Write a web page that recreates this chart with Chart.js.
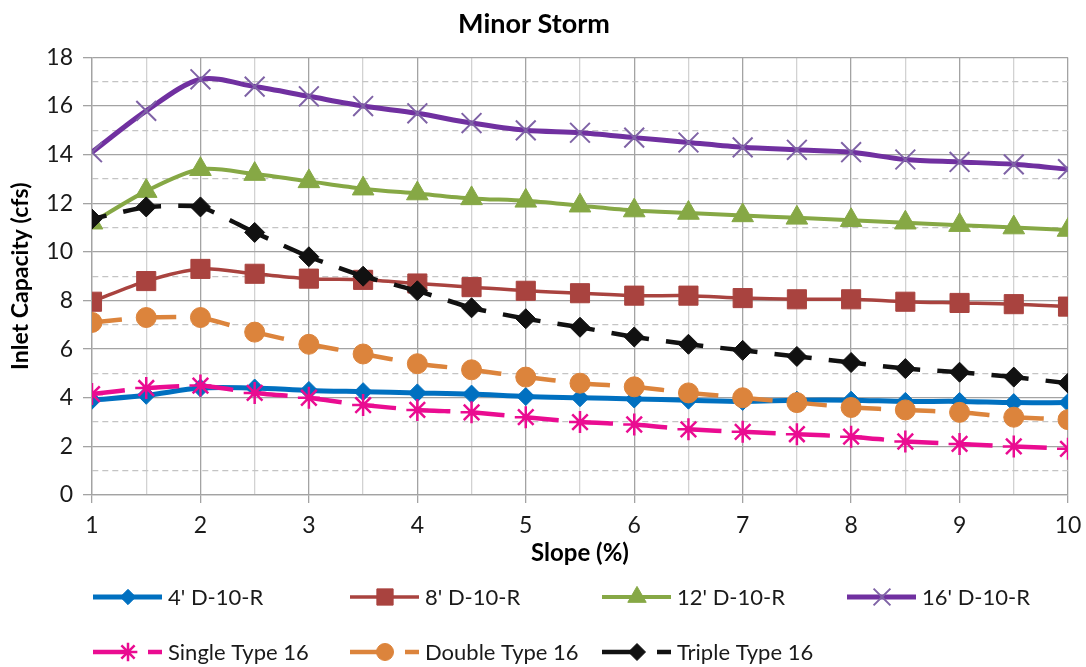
<!DOCTYPE html>
<html>
<head>
<meta charset="utf-8">
<title>Minor Storm</title>
<script src="https://cdn.jsdelivr.net/npm/chart.js@4.4.1/dist/chart.umd.min.js"></script>
<style>
    html, body { margin: 0; padding: 0; background: #ffffff; }
    #wrap { width: 1086px; height: 667px; }
</style>
</head>
<body>
<div id="wrap"><canvas id="capacityChart" width="1086" height="667"></canvas></div>
<script>

// ======================================
// Data
// ======================================

const slopes = [1, 1.5, 2, 2.5, 3, 3.5, 4, 4.5, 5, 5.5, 6, 6.5, 7, 7.5, 8, 8.5, 9, 9.5, 10];

const seriesNames = [
    "4' D-10-R", "8' D-10-R", "12' D-10-R", "16' D-10-R",
    "Single Type 16", "Double Type 16", "Triple Type 16"
];

const inlet4ft = [3.9, 4.1, 4.4, 4.4, 4.3, 4.25, 4.2, 4.15, 4.05, 4.0, 3.95, 3.9, 3.85, 3.9, 3.9, 3.85, 3.85, 3.8, 3.8];
const inlet8ft = [7.95, 8.8, 9.3, 9.1, 8.9, 8.85, 8.7, 8.55, 8.4, 8.3, 8.2, 8.2, 8.1, 8.05, 8.05, 7.95, 7.9, 7.85, 7.75];
const inlet12ft = [11.2, 12.5, 13.4, 13.2, 12.9, 12.6, 12.4, 12.2, 12.1, 11.9, 11.7, 11.6, 11.5, 11.4, 11.3, 11.2, 11.1, 11.0, 10.9];
const inlet16ft = [14.1, 15.8, 17.1, 16.8, 16.4, 16.0, 15.7, 15.3, 15.0, 14.9, 14.7, 14.5, 14.3, 14.2, 14.1, 13.8, 13.7, 13.6, 13.4];
const singleType16 = [4.15, 4.4, 4.5, 4.2, 4.0, 3.7, 3.5, 3.4, 3.2, 3.0, 2.9, 2.7, 2.6, 2.5, 2.4, 2.2, 2.1, 2.0, 1.9];
const doubleType16 = [7.1, 7.3, 7.3, 6.7, 6.2, 5.8, 5.4, 5.15, 4.85, 4.6, 4.45, 4.2, 4.0, 3.8, 3.6, 3.5, 3.4, 3.2, 3.1];
const tripleType16 = [11.35, 11.85, 11.85, 10.8, 9.8, 9.0, 8.4, 7.7, 7.25, 6.9, 6.5, 6.2, 5.95, 5.7, 5.45, 5.2, 5.05, 4.85, 4.6];

const yTicks = [0, 2, 4, 6, 8, 10, 12, 14, 16, 18];

// ======================================
// Styles
// ======================================

const FONT = "Lato, 'Open Sans', sans-serif";
const MAJOR_GRID = "#a3a3a3";
const MINOR_GRID = "#c4c4c4";
const HALF_GRID = "#d2d2d2";

const legendCols = [93, 350, 602, 847];
const legendRows = [597, 652];

function toPoints(values) {
    return slopes.map((s, i) => ({ x: s, y: values[i] }));
}

// every segment gets its own path so the dash restarts at each point
function restartDash(offset) {
    return {
        borderDashOffset: ctx => offset + (ctx.p0DataIndex % 2) * 0.01
    };
}

function solidSeries(label, values, color, style, radius, width, pointColor) {
    return {
        label: label,
        data: toPoints(values),
        borderColor: color,
        backgroundColor: pointColor || color,
        borderWidth: width,
        pointStyle: style,
        pointRadius: radius,
        pointBackgroundColor: pointColor || color,
        pointBorderColor: pointColor || color,
        pointBorderWidth: 1,
        tension: 0.3
    };
}

function dashedSeries(label, values, color, style, radius, dash, offset) {
    return {
        label: label,
        data: toPoints(values),
        borderColor: color,
        backgroundColor: color,
        borderWidth: 4.5,
        borderDash: dash,
        segment: restartDash(offset),
        pointStyle: style,
        pointRadius: radius,
        pointBackgroundColor: color,
        pointBorderColor: color,
        pointBorderWidth: 1,
        tension: 0.15
    };
}

const datasets = [
    solidSeries(seriesNames[0], inlet4ft, "#0070c0", "rectRot", 9, 5),
    solidSeries(seriesNames[1], inlet8ft, "#a9433f", "rect", 13.5, 3.5),
    solidSeries(seriesNames[2], inlet12ft, "#86a845", "triangle", 12.5, 4),
    solidSeries(seriesNames[3], inlet16ft, "#7030a0", "crossRot", 14, 5, "#7f63a6"),
    dashedSeries(seriesNames[4], singleType16, "#ea0c91", "star", 11, [36, 18], 3),
    dashedSeries(seriesNames[5], doubleType16, "#dc843c", "circle", 10, [36, 18], 6),
    dashedSeries(seriesNames[6], tripleType16, "#111111", "rectRot", 10, [37, 17], 22)
];

datasets[3].pointBorderWidth = 2;
datasets[4].pointBorderWidth = 2.5;

// later series sit on top, like the spreadsheet
datasets.forEach((ds, i) => { ds.order = datasets.length - i; });

// ======================================
// Legend in two rows
// ======================================

const rowLegend = {
    id: "rowLegend",
    afterDraw(chart) {
        const ctx = chart.ctx;
        chart.data.datasets.forEach((ds, i) => {
            const x0 = legendCols[i < 4 ? i : i - 4];
            const y0 = legendRows[i < 4 ? 0 : 1];

            ctx.save();
            ctx.strokeStyle = ds.borderColor;
            ctx.lineWidth = ds.borderWidth;
            ctx.lineCap = "butt";
            ctx.setLineDash(ds.borderDash ? [38, 17] : []);
            ctx.beginPath();
            ctx.moveTo(x0, y0);
            ctx.lineTo(x0 + 69, y0);
            ctx.stroke();
            ctx.setLineDash([]);

            ctx.fillStyle = ds.pointBackgroundColor;
            ctx.strokeStyle = ds.pointBorderColor;
            ctx.lineWidth = ds.pointBorderWidth;
            Chart.helpers.drawPoint(ctx, {
                pointStyle: ds.pointStyle,
                radius: ds.pointRadius * 0.85,
                borderWidth: ds.pointBorderWidth,
                rotation: 0
            }, x0 + 35, y0);

            ctx.fillStyle = "#1a1a1a";
            ctx.font = "22px " + FONT;
            ctx.textAlign = "left";
            ctx.textBaseline = "middle";
            ctx.fillText(ds.label, x0 + 75, y0 + 1);
            ctx.restore();
        });
    }
};

// ======================================
// Chart
// ======================================

const capacityChart = new Chart(document.getElementById("capacityChart"), {
    type: "line",
    data: { datasets: datasets },
    plugins: [rowLegend],
    options: {
        responsive: false,
        animation: false,
        events: [],
        layout: { padding: { left: 0, right: 18, top: 0, bottom: 92 } },
        plugins: {
            legend: { display: false },
            tooltip: { enabled: false },
            title: {
                display: true,
                text: "Minor Storm",
                color: "#000000",
                font: { family: FONT, size: 27, weight: "bold", lineHeight: 1.2 },
                padding: { top: 8, bottom: 17 }
            }
        },
        scales: {
            x: {
                type: "linear",
                min: 1,
                max: 10,
                ticks: {
                    stepSize: 0.5,
                    autoSkip: false,
                    maxRotation: 0,
                    padding: 9,
                    color: "#1a1a1a",
                    font: { family: FONT, size: 23 },
                    callback: v => Number.isInteger(v) ? v : ""
                },
                grid: {
                    color: ctx => ctx.tick && Number.isInteger(ctx.tick.value) ? MAJOR_GRID : HALF_GRID,
                    lineWidth: 1.3,
                    tickLength: 8,
                    tickColor: ctx => ctx.tick && Number.isInteger(ctx.tick.value) ? MAJOR_GRID : "rgba(0,0,0,0)"
                },
                border: { color: MAJOR_GRID, width: 1.3 },
                title: {
                    display: true,
                    text: "Slope (%)",
                    color: "#000000",
                    font: { family: FONT, size: 24, weight: "bold" },
                    padding: { top: 2, bottom: 7 }
                },
                afterFit: scale => {
                    scale.height = 80;
                    scale.paddingLeft = 0;
                    scale.paddingRight = 0;
                }
            },
            y: {
                min: 0,
                max: 18,
                ticks: {
                    stepSize: 1,
                    autoSkip: false,
                    padding: 10,
                    color: "#1a1a1a",
                    font: { family: FONT, size: 23 },
                    callback: v => yTicks.includes(v) ? v : ""
                },
                grid: {
                    color: ctx => ctx.tick && ctx.tick.value % 2 ? MINOR_GRID : MAJOR_GRID,
                    lineWidth: 1.3,
                    tickLength: 9,
                    tickColor: ctx => ctx.tick && ctx.tick.value % 2 ? "rgba(0,0,0,0)" : MAJOR_GRID
                },
                border: {
                    color: MAJOR_GRID,
                    width: 1.3,
                    dash: ctx => ctx.tick && ctx.tick.value % 2 ? [6, 4] : []
                },
                title: {
                    display: true,
                    text: "Inlet Capacity (cfs)",
                    color: "#000000",
                    font: { family: FONT, size: 23, weight: "bold" },
                    padding: { top: 7, bottom: 0 }
                },
                afterFit: scale => { scale.width = 92; }
            }
        }
    }
});

</script>
</body>
</html>
